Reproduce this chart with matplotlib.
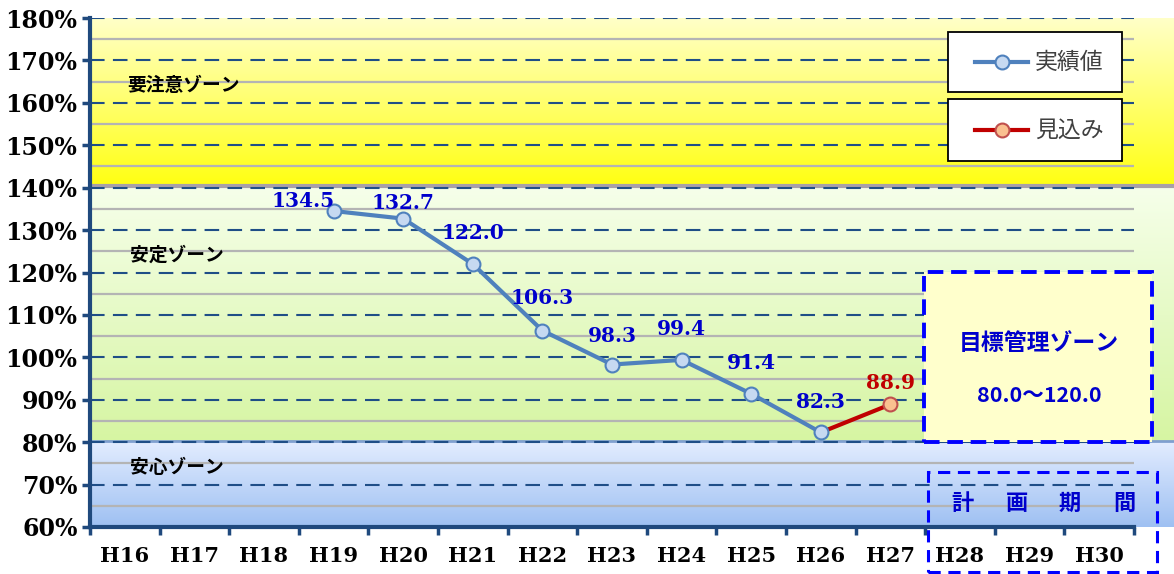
import numpy as np
import matplotlib
matplotlib.use("Agg")
import matplotlib.pyplot as plt
from matplotlib.patches import Rectangle
from matplotlib.lines import Line2D
from matplotlib.colors import LinearSegmentedColormap

# ---------------- data ----------------
years = ["H16", "H17", "H18", "H19", "H20", "H21", "H22", "H23",
         "H24", "H25", "H26", "H27", "H28", "H29", "H30"]
actual_years = ["H19", "H20", "H21", "H22", "H23", "H24", "H25", "H26"]
actual_values = [134.5, 132.7, 122.0, 106.3, 98.3, 99.4, 91.4, 82.3]
forecast_years = ["H26", "H27"]
forecast_values = [82.3, 88.9]
y_ticks = [60, 70, 80, 90, 100, 110, 120, 130, 140, 150, 160, 170, 180]
zones = [  # (low, high, label, label_y)
    (140, 180, "要注意ゾーン", 164),
    (80, 140, "安定ゾーン", 124),
    (60, 80, "安心ゾーン", 74),
]
target_low, target_high = 80.0, 120.0
legend_labels = ["実績値", "見込み"]
plan_label = ["計", "画", "期", "間"]

# label offsets (points) for actual values (style only)
label_offsets = [(-22, 0), (0, 4), (0, 15), (0, 16), (0, 13), (0, 15), (0, 15), (0, 15)]

# ---------------- figure ----------------
W, H = 1174, 574
fig = plt.figure(figsize=(W / 100, H / 100), dpi=100)
fig.patch.set_facecolor("white")

def fx(x):
    return x / W

def fy(y):
    return 1 - y / H

ax_left, ax_right, ax_top, ax_bottom = 90, 1174, 18, 527
ax = fig.add_axes([fx(ax_left), fy(ax_bottom), (ax_right - ax_left) / W,
                   (ax_bottom - ax_top) / H])
cat_px = 69.6
n = len(years)
xmax = -0.5 + (ax_right - ax_left) / cat_px
ax.set_facecolor("white")

xi = {y: i for i, y in enumerate(years)}

# zone gradients
def grad(ax, lo, hi, ctop, cbot):
    cmap = LinearSegmentedColormap.from_list("g", [cbot, ctop])
    img = np.linspace(0, 1, 256).reshape(-1, 1)
    ax.imshow(img, extent=(-0.56, xmax, lo, hi), origin="lower", aspect="auto",
              cmap=cmap, zorder=0, interpolation="bilinear")

grad(ax, 140, 180, "#FFFFC8", "#FFFF10")
grad(ax, 80, 140, "#F6FFEA", "#D6F5A2")
grad(ax, 60, 80, "#E2ECFF", "#9EC0F2")
ax.set_xlim(-0.5, xmax)
ax.set_ylim(60, 180)

# zone separator lines
ax.hlines(140.5, -0.5, xmax, color="#A8A0A8", lw=3, zorder=1)
ax.hlines(80.3, -0.5, xmax, color="#7F9FCF", lw=2, zorder=1)

# grid lines
minor = [v + 5 for v in y_ticks[:-1]]
ax.hlines(minor, -0.5, n - 0.5, color="#B4B4B4", lw=1.6, zorder=1)
ax.hlines(y_ticks[1:], -0.5, n - 0.5, color="#1F4E87", lw=1.5,
          linestyles=(0, (7, 4)), zorder=2)

# zone labels
jp = ["Noto Sans CJK JP", "DejaVu Sans"]
for lo, hi, lab, ly in zones:
    ax.text(0.08 if lab != "要注意ゾーン" else 0.03, ly, lab,
            fontsize=13.5, fontweight="bold", color="black",
            family=jp, va="center", ha="left", zorder=3)

# lines
ax_x = [xi[y] for y in actual_years]
fc_x = [xi[y] for y in forecast_years]
ax.plot(fc_x, forecast_values, color="#C00000", lw=3, zorder=4,
        marker="o", markersize=10, markerfacecolor="#FAC090",
        markeredgecolor="#C0504D", markeredgewidth=1.5, markevery=[1])
ax.plot(ax_x, actual_values, color="#4F81BD", lw=3, zorder=5,
        marker="o", markersize=10, markerfacecolor="#C6D9F1",
        markeredgecolor="#4F81BD", markeredgewidth=1.5)

for x, v, off in zip(ax_x, actual_values, label_offsets):
    ax.annotate(f"{v:.1f}", (x, v), xytext=off, textcoords="offset points",
                ha="center", va="bottom", fontsize=14.5, fontweight="bold",
                color="#0000CC", family="DejaVu Serif", zorder=6)
ax.annotate(f"{forecast_values[-1]:.1f}", (fc_x[-1], forecast_values[-1]),
            xytext=(0, 8), textcoords="offset points", ha="center", va="bottom",
            fontsize=14.5, fontweight="bold", color="#C00000",
            family="DejaVu Serif", zorder=6)

# axes styling
for s in ["top", "right"]:
    ax.spines[s].set_visible(False)
ax.spines["left"].set_color("#1F497D")
ax.spines["left"].set_linewidth(3)
ax.spines["bottom"].set_color("#1F497D")
ax.spines["bottom"].set_linewidth(3)
ax.spines["bottom"].set_bounds(-0.5, n - 0.5)
ax.spines["left"].set_zorder(7)
ax.spines["bottom"].set_zorder(7)

ax.set_yticks(y_ticks)
ax.set_yticklabels([f"{v}%" for v in y_ticks], fontsize=17, fontweight="bold",
                   family="DejaVu Serif")
ax.tick_params(axis="y", direction="out", length=6, width=2.5, color="#1F497D", pad=3)

ax.set_xticks(range(n))
ax.set_xticklabels(years, fontsize=15, fontweight="bold", family="DejaVu Serif")
ax.set_xticks(np.arange(-0.5, n, 1.0), minor=True)
ax.tick_params(axis="x", which="major", length=0, pad=14)
ax.tick_params(axis="x", which="minor", direction="out", length=6, width=2.5,
               color="#1F497D")

# ---------------- legend boxes ----------------
def legend_box(y0, y1, color, mface, medge, label):
    fig.patches.append(Rectangle((fx(948), fy(y1)), fx(1122) - fx(948), fy(y0) - fy(y1),
                                 transform=fig.transFigure, facecolor="white",
                                 edgecolor="black", lw=1.3, zorder=10))
    yc = fy((y0 + y1) / 2)
    fig.lines.append(Line2D([fx(975), fx(1002), fx(1028)], [yc, yc, yc],
                            transform=fig.transFigure, color=color, lw=3,
                            marker="o", markersize=10, markevery=[1],
                            markerfacecolor=mface, markeredgecolor=medge,
                            markeredgewidth=1.5, zorder=11))
    fig.text(fx(1035), yc, label, fontsize=16.5, color="#404040",
             family=jp, va="center", ha="left", zorder=12)

legend_box(32, 92, "#4F81BD", "#C6D9F1", "#4F81BD", legend_labels[0])
legend_box(99, 161, "#C00000", "#FAC090", "#C0504D", legend_labels[1])

# ---------------- target zone box ----------------
fig.patches.append(Rectangle((fx(924), fy(442)), fx(1152) - fx(924), fy(272) - fy(442),
                             transform=fig.transFigure, facecolor="#FFFFCC",
                             edgecolor="#0000FF", lw=2.8, linestyle=(0, (4, 2)),
                             zorder=10))
fig.text(fx(1039), fy(343), "目標管理ゾーン", fontsize=16.5, fontweight="bold",
         color="#0000CC", family=jp, ha="center", va="center", zorder=12)
fig.text(fx(1039), fy(396), f"{target_low:.1f}～{target_high:.1f}", fontsize=15.5,
         fontweight="bold", color="#0000CC", family=jp,
         ha="center", va="center", zorder=12)

# ---------------- plan period box ----------------
fig.patches.append(Rectangle((fx(928), fy(572)), fx(1157) - fx(928), fy(472) - fy(572),
                             transform=fig.transFigure, facecolor="none",
                             edgecolor="#0000FF", lw=2.2, linestyle=(0, (4, 2.5)),
                             zorder=10))
for ch, px in zip(plan_label, [962, 1017, 1070, 1124]):
    fig.text(fx(px), fy(503), ch, fontsize=16, fontweight="bold",
             color="#0000CC", family=jp, ha="center", va="center", zorder=12)

fig.savefig("out.png", dpi=100)
